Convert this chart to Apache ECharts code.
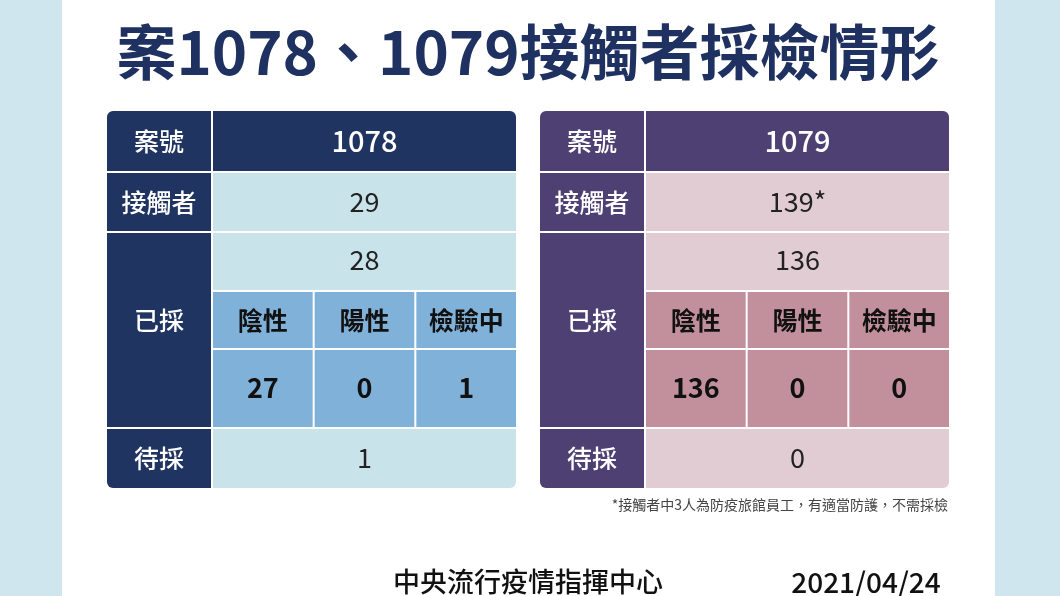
<!DOCTYPE html>
<html>
<head>
<meta charset="UTF-8">
<script src="https://cdn.jsdelivr.net/npm/echarts@6/dist/echarts.min.js"></script>
<style>html,body{margin:0;padding:0;background:#cfe6ee}</style>
</head>
<body>
<div id="main" style="width:1060px;height:596px"></div>
<script>
var title = '案1078、1079接觸者採檢情形';
var rowLabels = ['案號', '接觸者', '已採', '待採'];
var subLabels = ['陰性', '陽性', '檢驗中'];
var cases = ['1078', '1079'];
var contacts = ['29', '139*'];
var sampled = ['28', '136'];
var negative = ['27', '136'];
var positive = ['0', '0'];
var testing = ['1', '0'];
var pending = ['1', '0'];
var note = '*接觸者中3人為防疫旅館員工，有適當防護，不需採檢';
var footer = '中央流行疫情指揮中心';
var dateText = '2021/04/24';

var themes = [
  {dark: '#203461', light: '#c9e3ea', sub: '#80b1d8'},
  {dark: '#4f4074', light: '#e2ccd3', sub: '#c2909c'}
];
var font = '"Noto Sans CJK TC", sans-serif';
var g = [];
g.push({type: 'rect', shape: {x: 62, y: 0, width: 933, height: 596}, style: {fill: '#fff'}});
g.push({type: 'text', x: 528, y: 52, style: {text: title, fill: '#1f3160', font: 'bold 60px ' + font, textAlign: 'center', textVerticalAlign: 'middle'}});

function rect(x, y, w, h, fill, r) {
  g.push({type: 'rect', shape: {x: x, y: y, width: w, height: h, r: r || 0}, style: {fill: fill}});
}
function txt(x, y, s, color, size, weight) {
  g.push({type: 'text', x: x, y: y, style: {text: s, fill: color, font: (weight || 'normal') + ' ' + size + 'px ' + font, textAlign: 'center', textVerticalAlign: 'middle'}});
}

var lefts = [107, 540];
for (var i = 0; i < 2; i++) {
  var t = themes[i], x0 = lefts[i], W = 409, lw = 104, vx = x0 + lw + 2, vw = W - lw - 2;
  // label column cells
  rect(x0, 111, lw, 60, t.dark, [6, 0, 0, 0]);
  rect(x0, 173, lw, 58, t.dark);
  rect(x0, 233, lw, 194, t.dark);
  rect(x0, 429, lw, 59, t.dark, [0, 0, 0, 6]);
  // value cells
  rect(vx, 111, vw, 60, t.dark, [0, 6, 0, 0]);
  rect(vx, 173, vw, 58, t.light);
  rect(vx, 233, vw, 57, t.light);
  rect(vx, 429, vw, 59, t.light, [0, 0, 6, 0]);
  var cw = (vw - 4) / 3;
  var subVals = [negative[i], positive[i], testing[i]];
  for (var k = 0; k < 3; k++) {
    var cx = vx + k * (cw + 2);
    rect(cx, 292, cw, 56, t.sub);
    rect(cx, 350, cw, 77, t.sub);
    txt(cx + cw / 2, 320, subLabels[k], '#111', 25, 'bold');
    txt(cx + cw / 2, 388, subVals[k], '#111', 27, 'bold');
  }
  var lx = x0 + lw / 2;
  txt(lx, 141, rowLabels[0], '#fff', 25, '500');
  txt(lx, 202, rowLabels[1], '#fff', 25, '500');
  txt(lx, 320, rowLabels[2], '#fff', 25, '500');
  txt(lx, 458, rowLabels[3], '#fff', 25, '500');
  var mx = vx + vw / 2;
  txt(mx, 141, cases[i], '#fff', 29, '500');
  txt(mx, 202, contacts[i], '#222', 27);
  txt(mx, 260, sampled[i], '#222', 27);
  txt(mx, 458, pending[i], '#222', 27);
}
g.push({type: 'text', x: 948, y: 505, style: {text: note, fill: '#444', font: '14px ' + font, textAlign: 'right', textVerticalAlign: 'middle'}});
txt(528, 582, footer, '#111', 27, '500');
txt(866, 582, dateText, '#111', 28, '500');

var chart = echarts.init(document.getElementById('main'));
chart.setOption({graphic: g});
</script>
</body>
</html>
